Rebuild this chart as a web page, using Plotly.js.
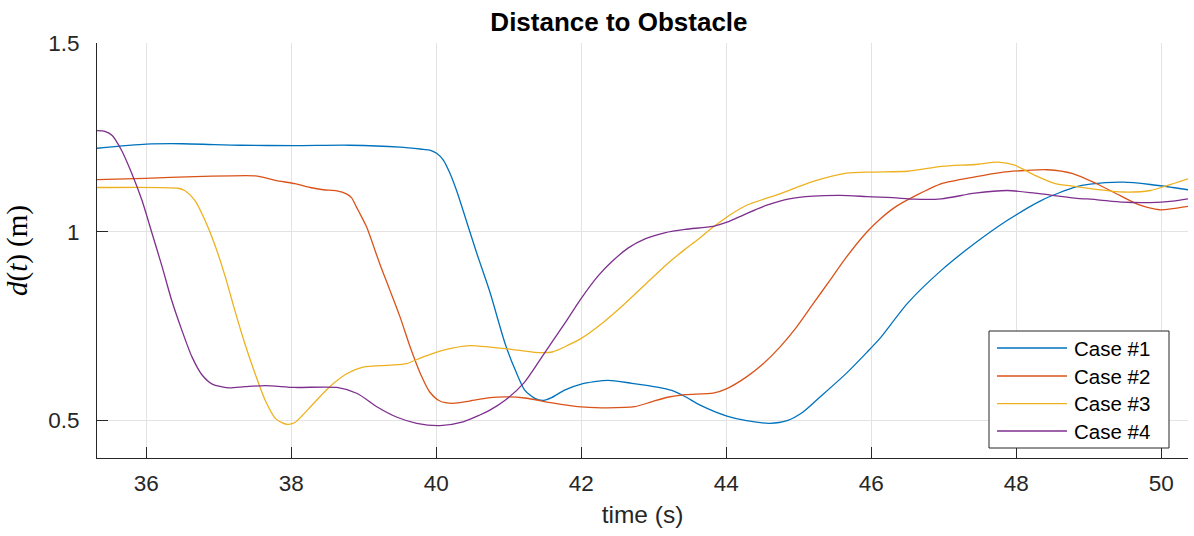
<!DOCTYPE html>
<html>
<head>
<meta charset="utf-8">
<script src="https://cdn.plot.ly/plotly-3.0.1.min.js"></script>
<style>html,body{margin:0;padding:0;background:#fff}#chart{width:1194px;height:536px}</style>
</head>
<body>
<div id="chart"></div>
<script>
// ---- Data ----
const seriesNames = ["Case #1", "Case #2", "Case #3", "Case #4"];

const t1 = [35.32, 36.0, 36.5, 37.3, 38.05, 38.8, 39.5, 39.82, 39.91, 40.01, 40.1, 40.19, 40.28, 40.37, 40.56, 40.74, 40.95, 41.09, 41.22, 41.36, 41.48, 41.59, 41.77, 42.0, 42.37, 42.7, 43.05, 43.25, 43.43, 43.64, 44.01, 44.28, 44.6, 44.84, 45.06, 45.29, 45.66, 45.94, 46.12, 46.5, 46.97, 47.43, 47.88, 48.35, 48.81, 49.02, 49.48, 49.85, 50.16, 50.37];
const d1 = [1.221, 1.232, 1.233, 1.229, 1.228, 1.229, 1.224, 1.218, 1.216, 1.207, 1.189, 1.154, 1.109, 1.056, 0.942, 0.84, 0.703, 0.633, 0.58, 0.558, 0.553, 0.56, 0.58, 0.596, 0.606, 0.598, 0.588, 0.579, 0.563, 0.54, 0.511, 0.499, 0.492, 0.499, 0.522, 0.561, 0.625, 0.68, 0.717, 0.81, 0.898, 0.969, 1.03, 1.083, 1.118, 1.126, 1.131, 1.125, 1.117, 1.111];

const t2 = [35.32, 35.98, 36.67, 37.5, 37.59, 37.78, 38.05, 38.26, 38.44, 38.63, 38.76, 38.83, 38.9, 38.97, 39.04, 39.22, 39.36, 39.5, 39.64, 39.78, 39.91, 40.05, 40.23, 40.46, 40.74, 40.95, 41.22, 41.6, 41.95, 42.28, 42.74, 42.97, 43.19, 43.43, 43.82, 44.01, 44.28, 44.51, 44.74, 44.97, 45.2, 45.43, 45.66, 45.94, 46.12, 46.33, 46.6, 46.97, 47.43, 47.8, 48.12, 48.43, 48.78, 49.11, 49.43, 49.71, 49.98, 50.16, 50.37];
const d2 = [1.138, 1.141, 1.146, 1.148, 1.145, 1.136, 1.127, 1.117, 1.111, 1.108, 1.1, 1.09, 1.065, 1.039, 1.012, 0.915, 0.845, 0.774, 0.694, 0.624, 0.575, 0.551, 0.545, 0.551, 0.56, 0.562, 0.559, 0.546, 0.536, 0.533, 0.536, 0.549, 0.561, 0.568, 0.572, 0.584, 0.615, 0.65, 0.694, 0.747, 0.809, 0.871, 0.933, 0.999, 1.033, 1.065, 1.094, 1.127, 1.145, 1.157, 1.162, 1.164, 1.154, 1.127, 1.096, 1.07, 1.058, 1.061, 1.067];

const t3 = [35.32, 36.44, 36.53, 36.67, 36.81, 36.94, 37.09, 37.22, 37.36, 37.5, 37.64, 37.78, 37.87, 37.95, 38.05, 38.15, 38.3, 38.53, 38.77, 38.99, 39.36, 39.59, 39.82, 40.1, 40.46, 40.74, 41.04, 41.36, 41.6, 41.82, 42.0, 42.28, 42.6, 42.97, 43.19, 43.43, 43.6, 43.82, 44.01, 44.28, 44.74, 45.2, 45.66, 46.02, 46.5, 46.97, 47.43, 47.75, 47.98, 48.26, 48.54, 48.81, 49.1, 49.48, 49.85, 50.08, 50.37];
const d3 = [1.117, 1.115, 1.109, 1.083, 1.03, 0.968, 0.88, 0.792, 0.703, 0.624, 0.553, 0.505, 0.494, 0.489, 0.494, 0.512, 0.543, 0.589, 0.624, 0.641, 0.646, 0.65, 0.668, 0.686, 0.698, 0.694, 0.688, 0.68, 0.681, 0.699, 0.717, 0.756, 0.809, 0.876, 0.915, 0.953, 0.978, 1.012, 1.039, 1.07, 1.1, 1.133, 1.155, 1.158, 1.16, 1.173, 1.178, 1.184, 1.176, 1.149, 1.127, 1.12, 1.112, 1.105, 1.109, 1.122, 1.14];

const t4 = [35.32, 35.43, 35.53, 35.66, 35.8, 35.94, 36.08, 36.22, 36.35, 36.49, 36.63, 36.77, 36.91, 37.13, 37.36, 37.64, 38.05, 38.63, 38.91, 39.18, 39.46, 39.73, 40.05, 40.37, 40.6, 40.74, 40.95, 41.21, 41.5, 41.77, 42.0, 42.23, 42.42, 42.65, 42.88, 43.15, 43.43, 43.82, 44.01, 44.28, 44.56, 44.87, 45.2, 45.57, 45.94, 46.3, 46.6, 46.97, 47.43, 47.88, 48.26, 48.81, 49.1, 49.48, 49.85, 50.16, 50.37];
const d4 = [1.268, 1.266, 1.255, 1.215, 1.154, 1.083, 0.995, 0.906, 0.818, 0.739, 0.668, 0.62, 0.596, 0.586, 0.589, 0.592, 0.587, 0.587, 0.571, 0.536, 0.508, 0.492, 0.486, 0.496, 0.514, 0.527, 0.553, 0.599, 0.68, 0.756, 0.823, 0.882, 0.92, 0.957, 0.981, 0.997, 1.006, 1.014, 1.025, 1.048, 1.07, 1.087, 1.094, 1.096, 1.093, 1.09, 1.086, 1.087, 1.102, 1.109, 1.102, 1.089, 1.085, 1.078, 1.077, 1.081, 1.087];

const xTicks = [36, 38, 40, 42, 44, 46, 48, 50];
const xTickLabels = ["36", "38", "40", "42", "44", "46", "48", "50"];
const yTicks = [0.5, 1, 1.5];
const yTickLabels = ["0.5", "1", "1.5"];

// ---- Styling ----
const colors = ["#0072BD", "#D95319", "#EDB120", "#7E2F8E"];
const times = [t1, t2, t3, t4];
const dists = [d1, d2, d3, d4];

const traces = seriesNames.map((name, i) => ({
  type: "scatter",
  mode: "lines",
  name: name,
  x: times[i],
  y: dists[i],
  line: { color: colors[i], width: 1.3, shape: "spline", smoothing: 0.7 }
}));

const axisColor = "#262626";
const gridColor = "#e3e3e3";

// plot area in pixels: left 97, right 1188, top 43, bottom 458
const PL = 97, PR = 1188, PT = 43, PB = 458;
const px = p => (p - PL) / (PR - PL);
const py = p => (PB - p) / (PB - PT);

// manual MATLAB-style legend (long line samples)
const legBox = { x0: 989, x1: 1169, y0: 331, y1: 448 };
const legRows = [348, 376, 403.7, 431];
const shapes = [{
  type: "rect", xref: "paper", yref: "paper",
  x0: px(legBox.x0), x1: px(legBox.x1), y0: py(legBox.y1), y1: py(legBox.y0),
  fillcolor: "#ffffff", line: { color: axisColor, width: 1 }, layer: "above"
}];
const annotations = [];
seriesNames.forEach((name, i) => {
  shapes.push({
    type: "line", xref: "paper", yref: "paper",
    x0: px(997), x1: px(1067), y0: py(legRows[i]), y1: py(legRows[i]),
    line: { color: colors[i], width: 1.3 }, layer: "above"
  });
  annotations.push({
    xref: "paper", yref: "paper", x: px(1072), y: py(legRows[i]),
    xanchor: "left", yanchor: "middle", showarrow: false, text: name,
    font: { family: "Liberation Sans, Arial, sans-serif", size: 20.5, color: "#000000" }
  });
});

const layout = {
  width: 1194,
  height: 536,
  margin: { l: PL, r: 1194 - PR, t: PT, b: 536 - PB, pad: 0 },
  paper_bgcolor: "#ffffff",
  plot_bgcolor: "#ffffff",
  font: { family: "Liberation Sans, Arial, sans-serif", size: 22, color: axisColor },
  title: {
    text: "<b>Distance to Obstacle</b>",
    font: { family: "Liberation Sans, Arial, sans-serif", size: 26, color: "#000000" },
    x: 0.5184, xref: "container", xanchor: "center",
    y: 1 - 22 / 536, yref: "container", yanchor: "middle"
  },
  xaxis: {
    range: [35.32, 50.37],
    tickvals: xTicks,
    ticktext: xTickLabels,
    ticks: "inside",
    ticklen: 11,
    tickwidth: 1,
    tickcolor: axisColor,
    ticklabelstandoff: 5,
    showline: true,
    linecolor: axisColor,
    linewidth: 1,
    mirror: false,
    showgrid: true,
    gridcolor: gridColor,
    gridwidth: 1,
    zeroline: false,
    tickfont: { size: 22.5, color: axisColor },
    title: { text: "time (s)", font: { size: 24.5, color: axisColor }, standoff: 10 }
  },
  yaxis: {
    range: [0.4, 1.5],
    tickvals: yTicks,
    ticktext: yTickLabels,
    ticks: "inside",
    ticklen: 11,
    tickwidth: 1,
    tickcolor: axisColor,
    ticklabelstandoff: 12,
    showline: true,
    linecolor: axisColor,
    linewidth: 1,
    mirror: false,
    showgrid: true,
    gridcolor: gridColor,
    gridwidth: 1,
    zeroline: false,
    tickfont: { size: 22.5, color: axisColor },
    title: {
      text: "<i>d</i>(<i>t</i>) (m)",
      font: { family: "Liberation Serif, DejaVu Serif, serif", size: 29, color: "#000000" },
      standoff: 12
    }
  },
  showlegend: false,
  shapes: shapes,
  annotations: annotations
};

Plotly.newPlot("chart", traces, layout, { displayModeBar: false, staticPlot: true });
</script>
</body>
</html>
